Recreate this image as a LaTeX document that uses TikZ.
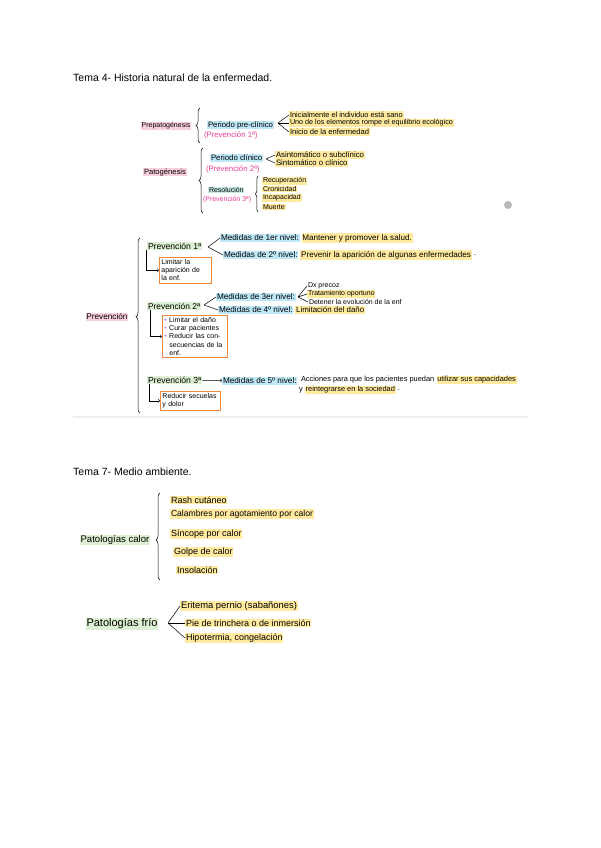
\documentclass[tikz,border=0pt]{standalone}
\usepackage{fontspec}
\setmainfont{Liberation Sans}
\usetikzlibrary{decorations.pathreplacing}

\definecolor{hlyellow}{RGB}{255,234,160}
\definecolor{hlblue}{RGB}{190,232,248}
\definecolor{hlpink}{RGB}{250,208,222}
\definecolor{hlgreen}{RGB}{222,240,212}
\definecolor{hlteal}{RGB}{200,236,232}
\definecolor{penpink}{RGB}{230,60,150}
\definecolor{boxorange}{RGB}{240,135,60}
\definecolor{bulletpurple}{RGB}{180,120,220}

\newcommand{\hs}[1]{\fontsize{#1}{#1}\selectfont}
\newcommand{\bul}{{\color{bulletpurple}\textbullet}~}

\begin{document}
\begin{tikzpicture}[x=1pt, y=-1pt,
  hy/.style={fill=hlyellow, inner sep=0.8pt, anchor=west},
  hb/.style={fill=hlblue, inner sep=0.8pt, anchor=west},
  hp/.style={fill=hlpink, inner sep=0.8pt},
  hg/.style={fill=hlgreen, inner sep=0.8pt},
  plain/.style={inner sep=0.8pt, anchor=west},
  obox/.style={draw=boxorange, line width=0.9pt, anchor=north west,
               align=left, inner sep=2pt, font=\fontsize{7}{8.2}\selectfont},
  brc/.style={decorate, decoration={brace, amplitude=4pt}, line width=0.5pt},
  pen/.style={line width=0.5pt},
  title/.style={anchor=base west, inner sep=0pt, font=\fontsize{10.5}{12}\selectfont}
]
  \useasboundingbox (0,0) rectangle (600,848);

  % Tema 4
  \node[title] (t4) at (73,82) {Tema 4- Historia natural de la enfermedad.};

  % Prepatogenesis
  \node[hp, font=\hs{7}] (prep) at (166,126) {Prepatogénesis};
  \coordinate (b1a) at (200,143);
  \coordinate (b1b) at (200,108);
  \draw[brc] (b1a) -- (b1b);
  \node[hb, font=\hs{7.8}] (ppc) at (207,125) {Periodo pre-clínico};
  \node[plain, font=\hs{7.8}, text=penpink] (pv1) at (203,135) {(Prevención 1ª)};
  \coordinate (f1) at (278,123);
  \node[hy, font=\hs{7.4}] (i11) at (289,115) {Inicialmente el individuo está sano};
  \node[hy, font=\hs{7.2}] (i12) at (289,123) {Uno de los elementos rompe el equilibrio ecológico};
  \node[hy, font=\hs{7.6}] (i13) at (289,132) {Inicio de la enfermedad};
  \draw[pen] (f1) -- (i11.west);
  \draw[pen] (f1) -- (i12.west);
  \draw[pen] (f1) -- (i13.west);

  % Patogenesis
  \node[hp, font=\hs{7.6}] (pato) at (165,172) {Patogénesis};
  \coordinate (b2a) at (203,213);
  \coordinate (b2b) at (203,148);
  \draw[brc] (b2a) -- (b2b);
  \node[hb, font=\hs{7.8}] (pc) at (210,158) {Periodo clínico};
  \node[plain, font=\hs{7.8}, text=penpink] (pv2) at (205,169) {(Prevención 2ª)};
  \coordinate (f2) at (266,159);
  \node[hy, font=\hs{7.8}] (i21) at (275,155) {Asintomático o subclínico};
  \node[hy, font=\hs{7.8}] (i22) at (275,163) {Sintomático o clínico};
  \draw[pen] (f2) -- (i21.west);
  \draw[pen] (f2) -- (i22.west);
  \node[hb, fill=hlteal, font=\hs{7}] (res) at (208,190) {Resolución};
  \node[plain, font=\hs{7}, text=penpink] (pv3) at (202,200) {(Prevención 3ª)};
  \coordinate (b3a) at (258,212);
  \coordinate (b3b) at (258,176);
  \draw[brc, decoration={amplitude=2.5pt}] (b3a) -- (b3b);
  \node[hy, font=\hs{7}] (r1) at (262,181) {Recuperación};
  \node[hy, font=\hs{7}] (r2) at (262,189) {Cronicidad};
  \node[hy, font=\hs{7}] (r3) at (262,198) {Incapacidad};
  \node[hy, font=\hs{7}] (r4) at (262,207) {Muerte};

  \fill[gray!55] (508,205) circle (4);

  % Prevencion
  \node[hp, font=\hs{8.2}] (prev) at (107,317) {Prevención};
  \coordinate (b4a) at (140,413);
  \coordinate (b4b) at (140,238);
  \draw[brc, decoration={aspect=0.55}] (b4a) -- (b4b);

  % prevencion 1
  \node[hg, anchor=west, font=\hs{8.6}] (p1) at (147,246) {Prevención 1ª};
  \coordinate (f3) at (208,247);
  \node[hb, font=\hs{8.2}] (m1) at (220,238) {Medidas de 1er nivel:};
  \node[hb, font=\hs{8.2}] (m2) at (223,255) {Medidas de 2º nivel:};
  \draw[pen] (f3) -- (m1.west);
  \draw[pen] (f3) -- (m2.west);
  \node[hy, font=\hs{8.1}] (m1t) at ([xshift=1.5pt]m1.east) {Mantener y promover la salud.};
  \node[hy, font=\hs{8.1}] (m2t) at ([xshift=1.5pt]m2.east) {Prevenir la aparición de algunas enfermedades};
  \node[plain, font=\hs{8.1}] (m2d) at ([xshift=1pt]m2t.east) {.};
  \node[obox, text width=48pt] (box1) at (159,257) {Limitar la\\aparición de\\la enf.};
  \draw[pen, ->] ([xshift=-1pt]p1.south west) |- (box1.west);

  % prevencion 2
  \node[hg, anchor=west, font=\hs{8.4}] (p2) at (147,306) {Prevención 2ª};
  \coordinate (f4) at (204,305);
  \node[hb, font=\hs{8.2}] (m3) at (216,297) {Medidas de 3er nivel:};
  \node[hb, font=\hs{8.2}] (m4) at (218,310) {Medidas de 4º nivel:};
  \draw[pen] (f4) -- (m3.west);
  \draw[pen] (f4) -- (m4.west);
  \coordinate (f5) at ([xshift=2pt]m3.east);
  \node[plain, font=\hs{7}] (d1) at (307,286) {Dx precoz};
  \node[hy, font=\hs{7}] (d2) at (307,294) {Tratamiento oportuno};
  \node[plain, font=\hs{7}] (d3) at (308,302) {Detener la evolución de la enf};
  \draw[pen] (f5) -- (d1.west);
  \draw[pen] (f5) -- (d2.west);
  \draw[pen] (f5) -- (d3.west);
  \node[hy, font=\hs{7.9}] (m4t) at ([xshift=1.5pt]m4.east) {Limitación del daño};
  \node[obox, text width=61pt] (box2) at (162,315) {\bul Limitar el daño\\\bul Curar pacientes\\\bul Reducir las con-\\\hspace*{5pt}secuencias de la\\\hspace*{5pt}enf.};
  \draw[pen, ->] ([xshift=3pt]p2.south west) |- (box2.west);

  % prevencion 3
  \node[hg, anchor=west, font=\hs{8.6}] (p3) at (147,380) {Prevención 3ª};
  \node[hb, font=\hs{8.2}] (m5) at (222,381) {Medidas de 5º nivel:};
  \draw[pen, ->] (p3) -- (m5);
  \node[plain, font=\hs{7.4}] (a1) at (300,380) {Acciones para que los pacientes puedan};
  \node[hy, font=\hs{7.4}] (a1h) at ([xshift=1pt]a1.east) {utilizar sus capacidades};
  \node[plain, font=\hs{7.4}] (a2) at (298,390) {y};
  \node[hy, font=\hs{7.4}] (a2h) at ([xshift=1pt]a2.east) {reintegrarse en la sociedad};
  \node[plain, font=\hs{7.4}] (a2d) at ([xshift=1pt]a2h.east) {.};
  \node[obox, text width=56pt] (box3) at (160,391) {Reducir secuelas\\y dolor};
  \draw[pen, ->] ([xshift=2pt]p3.south west) |- (box3.west);

  \draw[gray!12, line width=1.5pt] (73,417) -- (528,417);

  % Tema 7
  \node[title] (t7) at (73,475) {Tema 7- Medio ambiente.};

  % calor
  \node[hg, font=\hs{9.6}] (pcal) at (115,540) {Patologías calor};
  \coordinate (b5a) at (160,580);
  \coordinate (b5b) at (160,493);
  \draw[brc, decoration={aspect=0.46}] (b5a) -- (b5b);
  \node[hy, font=\hs{9}] (c1) at (170,500) {Rash cutáneo};
  \node[hy, font=\hs{8.6}] (c2) at (170,514) {Calambres por agotamiento por calor};
  \node[hy, font=\hs{9}] (c3) at (170,534) {Síncope por calor};
  \node[hy, font=\hs{9}] (c4) at (173,552) {Golpe de calor};
  \node[hy, font=\hs{9}] (c5) at (176,570) {Insolación};

  % frio
  \node[hg, font=\hs{11}] (pfri) at (122,624) {Patologías frío};
  \coordinate (f6) at (168,623);
  \node[hy, font=\hs{9.4}] (e1) at (180,606) {Eritema pernio (sabañones)};
  \node[hy, font=\hs{9}] (e2) at (185,623) {Pie de trinchera o de inmersión};
  \node[hy, font=\hs{9}] (e3) at (185,638) {Hipotermia, congelación};
  \draw[pen] (f6) -- (e1.west);
  \draw[pen] (f6) -- (e2.west);
  \draw[pen] (f6) -- (e3.west);

\end{tikzpicture}
\end{document}
